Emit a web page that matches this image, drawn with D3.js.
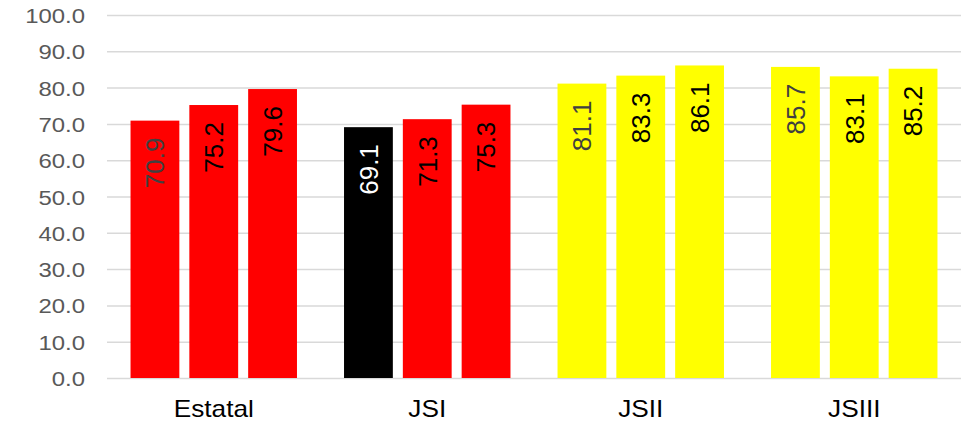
<!DOCTYPE html>
<html>
<head>
<meta charset="utf-8">
<script src="https://cdn.jsdelivr.net/npm/d3@7"></script>
<style>
  body { margin: 0; background: #fff; }
  text { font-family: "Liberation Sans", Arial, sans-serif; }
</style>
</head>
<body>
<div class="chart"></div>
<script>
const categories = ['Estatal', 'JSI', 'JSII', 'JSIII']
const series1 = [70.9, 69.1, 81.1, 85.7]
const series2 = [75.2, 71.3, 83.3, 83.1]
const series3 = [79.6, 75.3, 86.1, 85.2]
const barColors = [
  ['#ff0000', '#ff0000', '#ff0000'],
  ['#000000', '#ff0000', '#ff0000'],
  ['#ffff00', '#ffff00', '#ffff00'],
  ['#ffff00', '#ffff00', '#ffff00']
]
const labelColors = [
  ['#404040', '#000000', '#000000'],
  ['#ffffff', '#000000', '#000000'],
  ['#404040', '#000000', '#000000'],
  ['#404040', '#000000', '#000000']
]
const yTicks = [0, 10, 20, 30, 40, 50, 60, 70, 80, 90, 100]

const width = 969
const height = 425
const margin = { top: 15, right: 8, bottom: 47, left: 107 }
const stretch = 1.14 // text in the original is a bit wider than Arial

var dataset = []
categories.forEach((c, i) => {
  dataset.push([c, [series1[i], series2[i], series3[i]], i])
})

const svg = d3.select('.chart')
  .append('svg')
  .attr('width', width)
  .attr('height', height)

const x0 = d3.scaleBand()
  .domain(categories)
  .range([margin.left, width - margin.right])

const x1 = d3.scaleBand()
  .domain([0, 1, 2])
  .range([0, x0.bandwidth()])
  .paddingInner(0.17)
  .paddingOuter(0.4)

const y = d3.scaleLinear()
  .domain([0, 100])
  .range([height - margin.bottom, margin.top])

// gridlines + tick labels
const yAxis = d3.axisLeft(y)
  .tickValues(yTicks)
  .tickFormat(d3.format('.1f'))
  .tickSize(-(width - margin.left - margin.right))
  .tickPadding(19.3)

svg.append('g')
  .attr('transform', 'translate(' + margin.left + ',0)')
  .call(yAxis)
  .call(g => g.select('.domain').remove())
  .call(g => g.selectAll('.tick line').attr('stroke', '#d9d9d9').attr('stroke-width', 1.5))
  .call(g => g.selectAll('.tick text')
    .attr('fill', '#595959')
    .style('font-size', '21px')
    .attr('dy', '0.36em')
    .attr('transform', 'scale(' + stretch + ',1)'))

const groups = svg.selectAll('.group')
  .data(dataset)
  .enter()
  .append('g')
  .attr('class', 'group')
  .attr('transform', d => 'translate(' + x0(d[0]) + ',0)')

groups.selectAll('rect')
  .data(d => d[1].map((v, j) => [v, j, d[2]]))
  .enter()
  .append('rect')
  .attr('x', d => x1(d[1]))
  .attr('width', x1.bandwidth())
  .attr('y', d => y(d[0]))
  .attr('height', d => y(0) - y(d[0]))
  .attr('fill', d => barColors[d[2]][d[1]])

groups.selectAll('.label')
  .data(d => d[1].map((v, j) => [v, j, d[2]]))
  .enter()
  .append('text')
  .attr('class', 'label')
  .attr('transform', d => 'translate(' + (x1(d[1]) + x1.bandwidth() / 2) + ',' + (y(d[0]) + 17) + ') rotate(-90)')
  .attr('text-anchor', 'end')
  .attr('dy', '0.36em')
  .style('font-size', '26px')
  .attr('fill', d => labelColors[d[2]][d[1]])
  .text(d => d[0].toFixed(1))

// category axis
svg.append('g')
  .selectAll('text')
  .data(categories)
  .enter()
  .append('text')
  .attr('transform', d => 'translate(' + (x0(d) + x0.bandwidth() / 2) + ',417) scale(' + stretch + ',1)')
  .attr('text-anchor', 'middle')
  .attr('fill', '#000')
  .style('font-size', '23px')
  .text(d => d)
</script>
</body>
</html>
